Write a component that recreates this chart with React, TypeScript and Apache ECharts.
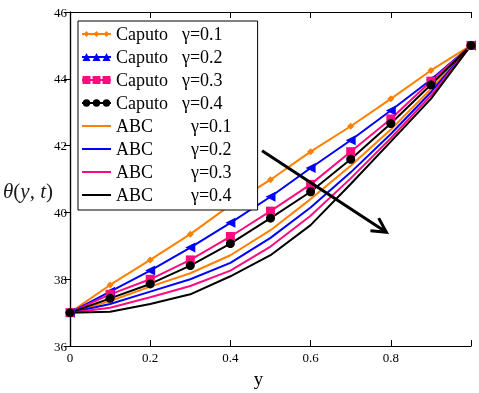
import React, { useEffect, useRef } from "react";
import * as echarts from "echarts";

const xValues = [0, 0.1, 0.2, 0.3, 0.4, 0.5, 0.6, 0.7, 0.8, 0.9, 1.0];

const caputo01 = [37, 37.83, 38.58, 39.35, 40.22, 40.98, 41.82, 42.58, 43.4, 44.25, 45];
const caputo02 = [37, 37.63, 38.26, 38.95, 39.69, 40.47, 41.33, 42.16, 43.05, 43.97, 45];
const caputo03 = [37, 37.55, 38.0, 38.58, 39.28, 40.04, 40.84, 41.82, 42.8, 43.93, 45];
const caputo04 = [37, 37.43, 37.86, 38.41, 39.07, 39.83, 40.62, 41.59, 42.66, 43.82, 45];

const abc01 = [37, 37.35, 37.78, 38.18, 38.72, 39.47, 40.4, 41.4, 42.48, 43.7, 45];
const abc02 = [37, 37.26, 37.63, 38.0, 38.49, 39.24, 40.15, 41.2, 42.35, 43.6, 45];
const abc03 = [37, 37.15, 37.46, 37.8, 38.26, 38.98, 39.9, 41.02, 42.22, 43.5, 45];
const abc04 = [37, 37.03, 37.26, 37.55, 38.09, 38.72, 39.62, 40.85, 42.12, 43.4, 45];

const seriesNames = [
  "Caputo γ=0.1",
  "Caputo γ=0.2",
  "Caputo γ=0.3",
  "Caputo γ=0.4",
  "ABC γ=0.1",
  "ABC γ=0.2",
  "ABC γ=0.3",
  "ABC γ=0.4",
];

const FONT = "Liberation Serif";

function pairs(ys: number[]) {
  return xValues.map((x, i) => [x, ys[i]]);
}

// legend icon paths (29 x 9 box): a line with three markers
const LINE = "M0,3.5 L29,3.5 L29,5.5 L0,5.5 Z";
const markerXs = [4.5, 14.5, 24.5];
function diamondIcon() {
  return "path://" + LINE + markerXs.map((x) => ` M${x},1.5 L${x + 3},4.5 L${x},7.5 L${x - 3},4.5 Z`).join("") + " M0,0.5 L0,8.5";
}
function triangleIcon() {
  return "path://" + LINE + markerXs.map((x) => ` M${x},0.5 L${x + 4},8.5 L${x - 4},8.5 Z`).join("");
}
function squareIcon() {
  return "path://" + LINE + markerXs.map((x) => ` M${x - 4},0.5 L${x + 4},0.5 L${x + 4},8.5 L${x - 4},8.5 Z`).join("");
}
function circleIcon() {
  return (
    "path://" +
    LINE +
    markerXs.map((x) => ` M${x - 3.7},4.5 A3.7,3.7 0 1,1 ${x + 3.7},4.5 A3.7,3.7 0 1,1 ${x - 3.7},4.5 Z`).join("") +
    " M0,0.5 L0,8.5"
  );
}

export default function App() {
  const ref = useRef<HTMLDivElement>(null);

  useEffect(() => {
    if (!ref.current) return;
    const chart = echarts.init(ref.current, null, { renderer: "svg" });

    const colors = ["#FF8000", "#0000FF", "#FF0A80", "#000000"];
    const symbols = ["diamond", "triangle", "rect", "circle"];
    const symbolSizes = [7, 10, 9, 9];
    const symbolRotates = [0, 90, 0, 0];
    const caputoData = [caputo01, caputo02, caputo03, caputo04];
    const abcData = [abc01, abc02, abc03, abc04];

    const series: any[] = [];
    caputoData.forEach((d, i) => {
      series.push({
        name: seriesNames[i],
        type: "line",
        data: pairs(d),
        symbol: symbols[i],
        symbolSize: symbolSizes[i],
        symbolRotate: symbolRotates[i],
        showAllSymbol: true,
        lineStyle: { color: colors[i], width: 2 },
        itemStyle: { color: colors[i] },
        z: 3,
      });
    });
    abcData.forEach((d, i) => {
      series.push({
        name: seriesNames[i + 4],
        type: "line",
        data: pairs(d),
        symbol: "none",
        lineStyle: { color: colors[i], width: 2 },
        itemStyle: { color: colors[i] },
        z: 2,
      });
    });

    const lineIcon = "path://M0,0 L29,0 L29,2 L0,2 Z";
    const caputoIcons = [diamondIcon(), triangleIcon(), squareIcon(), circleIcon()];
    const legendData = seriesNames.map((n, i) =>
      i < 4 ? { name: n, icon: caputoIcons[i] } : { name: n, icon: lineIcon }
    );

    const axisLine = { show: true, lineStyle: { color: "#000", width: 1.2 } };

    chart.setOption({
      animation: false,
      textStyle: { fontFamily: FONT },
      grid: { left: 70, right: 8, top: 12, bottom: 32, containLabel: false },
      legend: {
        orient: "vertical",
        left: 78,
        top: 21,
        padding: [4, 26, 6, 4],
        itemGap: 5,
        itemWidth: 29,
        itemHeight: 9,
        backgroundColor: "#fff",
        borderColor: "#000",
        borderWidth: 1,
        data: legendData,
        textStyle: {
          fontFamily: FONT,
          fontSize: 18,
          color: "#000",
          lineHeight: 18,
          rich: {
            c: { width: 66, fontFamily: FONT, fontSize: 18, lineHeight: 18, color: "#000" },
            a: { width: 75, fontFamily: FONT, fontSize: 18, lineHeight: 18, color: "#000" },
            g: { fontFamily: FONT, fontSize: 18, lineHeight: 18, color: "#000" },
          },
        },
        formatter: (name: string) => {
          const [m, g] = name.split(" ");
          return m === "Caputo" ? `{c|${m}}{g|${g}}` : `{a|${m}}{g|${g}}`;
        },
      },
      xAxis: [
        {
          type: "value",
          min: 0,
          max: 1,
          interval: 0.2,
          position: "bottom",
          name: "y",
          nameLocation: "middle",
          nameGap: 17,
          nameTextStyle: { fontFamily: FONT, fontSize: 19, color: "#000", padding: [0, 24, 0, 0] },
          axisLine,
          axisTick: { show: true, inside: true, length: 6, lineStyle: { color: "#000" } },
          axisLabel: {
            fontFamily: FONT,
            fontSize: 13,
            color: "#000",
            margin: 5,
            formatter: (v: number) => (v >= 1 ? "" : String(Math.round(v * 10) / 10)),
          },
          splitLine: { show: false },
        },
        {
          type: "value",
          min: 0,
          max: 1,
          interval: 0.2,
          position: "top",
          axisLine,
          axisTick: { show: true, inside: true, length: 6, lineStyle: { color: "#000" } },
          axisLabel: { show: false },
          splitLine: { show: false },
        },
      ],
      yAxis: [
        {
          type: "value",
          min: 36,
          max: 46,
          interval: 2,
          position: "left",
          axisLine,
          axisTick: { show: true, inside: false, length: 3, lineStyle: { color: "#000" } },
          axisLabel: { fontFamily: FONT, fontSize: 13, color: "#000", margin: 3 },
          splitLine: { show: false },
        },
        {
          type: "value",
          min: 36,
          max: 46,
          interval: 2,
          position: "right",
          axisLine,
          axisTick: { show: true, inside: true, length: 6, lineStyle: { color: "#000" } },
          axisLabel: { show: false },
          splitLine: { show: false },
        },
      ],
      series,
    });

    // Arrow annotation in data coordinates
    const start = chart.convertToPixel({ gridIndex: 0 }, [0.479, 41.85]) as number[];
    const end = chart.convertToPixel({ gridIndex: 0 }, [0.789, 39.41]) as number[];
    const ang = Math.atan2(end[1] - start[1], end[0] - start[0]);
    const L = 16;
    const spread = (28 * Math.PI) / 180;
    const a1 = [end[0] + L * Math.cos(ang + Math.PI - spread), end[1] + L * Math.sin(ang + Math.PI - spread)];
    const a2 = [end[0] + L * Math.cos(ang + Math.PI + spread), end[1] + L * Math.sin(ang + Math.PI + spread)];

    chart.setOption({
      graphic: [
        {
          type: "text",
          left: 3,
          top: 180,
          style: {
            text: "{i|θ}{n|(}{i|y}{n|, }{i|t}{n|)}",
            rich: {
              i: { fontFamily: FONT, fontSize: 21, fontStyle: "italic", fill: "#1a1a1a" },
              n: { fontFamily: FONT, fontSize: 21, fill: "#1a1a1a" },
            },
          },
        },
        {
          type: "line",
          shape: { x1: start[0], y1: start[1], x2: end[0], y2: end[1] },
          style: { stroke: "#000", lineWidth: 3 },
          z: 10,
        },
        {
          type: "polyline",
          shape: { points: [a1, end, a2] },
          style: { stroke: "#000", lineWidth: 3, fill: null },
          z: 10,
        },
      ],
    });

    return () => chart.dispose();
  }, []);

  return (
    <div
      ref={ref}
      style={{ position: "fixed", left: 0, top: 0, width: 479, height: 393 }}
    />
  );
}
